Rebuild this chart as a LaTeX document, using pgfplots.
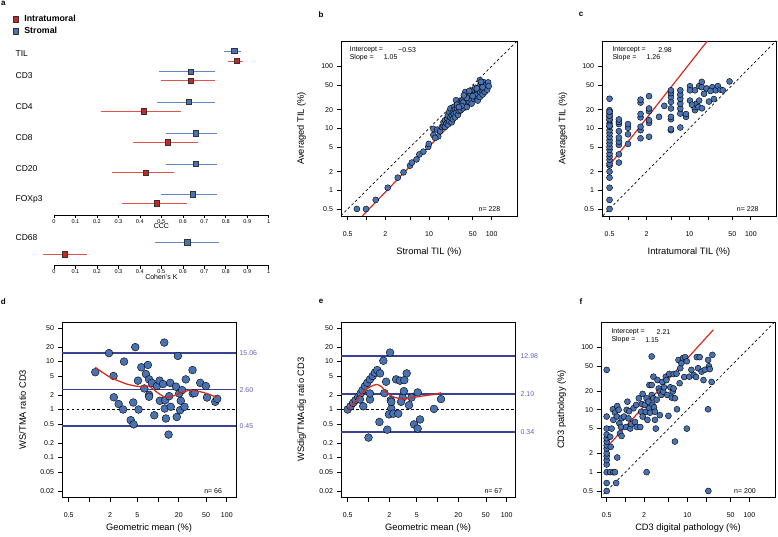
\documentclass[border=0pt]{standalone}
\usepackage{fontspec}
\setmainfont{Liberation Sans}
\usepackage{pgfplots}
\pgfplotsset{compat=1.18}
\newcommand\fs[1]{\fontsize{#1}{#1}\selectfont}
\definecolor{ptblue}{RGB}{72,114,178}
\definecolor{ciblue}{RGB}{96,136,196}
\definecolor{ptred}{RGB}{200,38,38}
\definecolor{cired}{RGB}{222,84,72}
\definecolor{fitred}{RGB}{214,44,32}
\definecolor{lineblue}{RGB}{58,66,150}
\definecolor{lblblue}{RGB}{98,98,180}
\tikzset{rowlbl/.style={anchor=west, font=\fs{8.5}}}
\pgfplotsset{
 myR/.style={scale only axis, xminorticks=false, yminorticks=false,
   tick align=outside, major tick length=4.5pt, xtick pos=bottom, ytick pos=left,
   axis line style={line width=0.8pt}, tick style={black,line width=0.7pt},
   tick label style={font=\fs{7}}, xticklabel style={yshift=-8pt}, label style={font=\fs{9.3}},
   clip mode=individual, clip marker paths=true, height=175pt},
 mytop/.style={xlabel style={at={(axis description cs:0.5,-0.204)},anchor=center},
   ylabel style={at={(axis description cs:-0.225,0.5)},anchor=center}},
 mybot/.style={xlabel style={at={(axis description cs:0.5,-0.179)},anchor=center},
   ylabel style={at={(axis description cs:-0.226,0.5)},anchor=center}},
 mytt/.style={xtick={0.5,1,2,5,10,20,50,100}, xticklabels={0.5,,2,,10,,50,100},
   ytick={0.5,1,2,5,10,20,50,100}, yticklabels={0.5,1,2,5,10,20,50,100}},
 mybt/.style={xtick={0.5,1,2,5,10,20,50,100}, xticklabels={0.5,,2,5,,20,50,100},
   ytick={0.02,0.05,0.1,0.2,0.5,1,2,5,10,20,50}, yticklabels={0.02,0.05,0.1,0.2,0.5,1,2,5,10,20,50}},
 mysc/.style={only marks, mark=*, mark size=3pt, mark options={fill=ptblue, draw=black, line width=0.4pt}},
 myscb/.style={only marks, mark=*, mark size=3.9pt, mark options={fill=ptblue, draw=black, line width=0.4pt}},
 fa/.style={scale only axis, width=214.7pt, xmin=0, xmax=1, axis x line*=bottom, axis y line=none, clip=false,
   xtick={0,0.1,0.2,0.3,0.4,0.5,0.6,0.7,0.8,0.9,1}, xticklabels={0,0.1,0.2,0.3,0.4,0.5,0.6,0.7,0.8,0.9,1},
   tick align=outside, major tick length=3pt, tick style={black,line width=0.6pt},
   axis line style={line width=0.7pt,black}, xticklabel style={font=\fs{5.6}, inner sep=1pt}},
 cib/.style={ciblue, line width=0.9pt, forget plot},
 cir/.style={cired, line width=0.9pt, forget plot},
 sqb/.style={only marks, mark=square*, mark size=2.7pt, mark options={fill=ptblue, draw=black!80, line width=0.5pt}},
 sqr/.style={only marks, mark=square*, mark size=2.7pt, mark options={fill=ptred, draw=black!80, line width=0.5pt}},
}
\begin{document}
\begin{tikzpicture}
\path[use as bounding box] (0,0) rectangle (778pt,536pt);
% panel letters
\node[anchor=north west, font=\fs{8}\bfseries, inner sep=0pt] at (1pt,535pt) {a};
\node[font=\fs{8}\bfseries] at (321pt,521.7pt) {b};
\node[font=\fs{8}\bfseries] at (581pt,521.7pt) {c};
\node[font=\fs{8}\bfseries] at (3.3pt,234.3pt) {d};
\node[font=\fs{8}\bfseries] at (321pt,234.3pt) {e};
\node[font=\fs{8}\bfseries] at (581pt,234.3pt) {f};

% ---------- panel a, CCC part ----------
\begin{axis}[fa, at={(54pt,321pt)}, height=175pt, ymin=-215, ymax=-40,
  legend style={at={(-0.192,1.154)}, anchor=north west, draw=none, fill=none,
    font=\fs{8.8}\bfseries, inner sep=0pt, row sep=0pt, cells={anchor=west},
    /tikz/every odd column/.append style={column sep=4pt}}]
\addplot[cib] coordinates {(0.79,-51) (0.87,-51)};
\addplot[cir] coordinates {(0.81,-61) (0.88,-61)};
\addplot[cib] coordinates {(0.488,-71.7) (0.752,-71.7)};
\addplot[cir] coordinates {(0.498,-80.7) (0.752,-80.7)};
\addplot[cib] coordinates {(0.478,-102) (0.752,-102)};
\addplot[cir] coordinates {(0.217,-111.3) (0.59,-111.3)};
\addplot[cib] coordinates {(0.52,-133.3) (0.761,-133.3)};
\addplot[cir] coordinates {(0.37,-142.3) (0.671,-142.3)};
\addplot[cib] coordinates {(0.52,-164) (0.761,-164)};
\addplot[cir] coordinates {(0.269,-172.7) (0.559,-172.7)};
\addplot[cib] coordinates {(0.498,-194.3) (0.761,-194.3)};
\addplot[cir] coordinates {(0.318,-203.3) (0.621,-203.3)};
\addplot[sqr] coordinates {(0.85,-61) (0.638,-80.7) (0.419,-111.3) (0.53,-142.3) (0.427,-172.7) (0.478,-203.3)};
\addlegendentry{Intratumoral}
\addplot[sqb] coordinates {(0.84,-51) (0.638,-71.7) (0.629,-102) (0.661,-133.3) (0.661,-164) (0.646,-194.3)};
\addlegendentry{Stromal}
\node[rowlbl] at (axis cs:-0.195,-53.3) {TIL};
\node[rowlbl] at (axis cs:-0.195,-76) {CD3};
\node[rowlbl] at (axis cs:-0.195,-106.7) {CD4};
\node[rowlbl] at (axis cs:-0.195,-137.3) {CD8};
\node[rowlbl] at (axis cs:-0.195,-168.3) {CD20};
\node[rowlbl] at (axis cs:-0.195,-199.3) {FOXp3};
\node[font=\fs{7}] at (axis cs:0.5,-226.3) {CCC};
\end{axis}

% ---------- panel a, kappa part ----------
\begin{axis}[fa, at={(54pt,270.3pt)}, height=40.7pt, ymin=-265.7, ymax=-225]
\addplot[cib] coordinates {(0.47,-242.3) (0.77,-242.3)};
\addplot[cir] coordinates {(-0.05,-254.3) (0.152,-254.3)};
\addplot[sqb] coordinates {(0.621,-242.3)};
\addplot[sqr] coordinates {(0.051,-254.3)};
\node[rowlbl] at (axis cs:-0.195,-237.7) {CD68};
\node[font=\fs{7}] at (axis cs:0.5,-276.7) {Cohen's K};
\end{axis}

% ---------- panel b ----------
\begin{axis}[myR, mytop, mytt, xmode=log, ymode=log, at={(341pt,320pt)}, width=176pt,
  xmin=0.39, xmax=255, ymin=0.385, ymax=256,
  xlabel={Stromal TIL (\%)}, ylabel={Averaged TIL (\%)}]
\addplot[black, line width=0.7pt, dash pattern=on 2.5pt off 2.5pt] coordinates {(0.3,0.3) (300,300)};
\addplot[fitred, line width=1.2pt] coordinates {(0.857,0.385) (90,51)};
\addplot[mysc] coordinates {
(0.70,0.5)(0.98,0.5)(1.4,0.70)(2.18,1.1)(3.15,1.6)(3.9,1.95)(4.96,2.5)(5.3,2.8)(6.3,3.15)(7,3.8)
(8.1,4.2)(9.7,5)(9.9,5.6)(11.7,7.8)(11.7,9.8)(13.5,9.5)(14,7.4)(12.5,7)(15,9)(16,10.5)
(17,11)(17,12.5)(18,13.5)(18,10.5)(19,12)(19.5,14.5)(20,11.5)(20,16)(21,13)(21,18.4)
(22,15)(22,20.9)(23,16.3)(23,12.5)(24,14)(24,18)(25,22.2)(25,17)(26,15)(26,20)
(27,28.4)(27,18)(28,21)(29,16.5)(30,25)(30,19)(31,22)(32,19.6)(33,26)(34,28.4)
(35,21)(36,30)(37,24)(38,38.6)(39,27)(40,22)(41,28.4)(42,33)(43.5,27)(45,30)
(47,40)(48,25)(50,41)(52,30)(54,35)(56,32)(58,36)(60,41)(60,28)(62,45)
(64,48)(65,60)(65,32)(66,38)(68,43)(70,52.6)(70,40)(72,35)(74,43)(75,48)
(76,55)(78,38.6)(80,45)(82,50)(85,42)(88,55)(90,48)(55,45)(45,36)(35,26)
(28,24)(33,23)(40,31)(50,33)(58,44)(68,56)(72,46)(44,40)(30,22)(36,34)};
\node[anchor=west, font=\fs{7}] at (rel axis cs:0.03,0.949) {Intercept =};
\node[anchor=west, font=\fs{7}] at (rel axis cs:0.03,0.907) {Slope =};
\node[anchor=west, font=\fs{7}] at (rel axis cs:0.305,0.949) {−0.53};
\node[anchor=west, font=\fs{7}] at (rel axis cs:0.223,0.907) {1.05};
\node[anchor=east, font=\fs{7}] at (rel axis cs:0.925,0.04) {n= 228};
\end{axis}

% ---------- panel c ----------
\begin{axis}[myR, mytop, mytt, xmode=log, ymode=log, at={(602pt,320pt)}, width=174pt,
  xmin=0.377, xmax=257, ymin=0.385, ymax=256,
  xlabel={Intratumoral TIL (\%)}, ylabel={Averaged TIL (\%)}]
\addplot[black, line width=0.7pt, dash pattern=on 2.5pt off 2.5pt] coordinates {(0.3,0.3) (300,300)};
\addplot[fitred, line width=1.2pt] coordinates {(0.525,2.7) (19.6,256)};
\addplot[mysc] coordinates {
(0.5,0.5)(0.5,0.7)(0.5,1.1)(0.5,1.6)(0.5,2)(0.5,2.5)(0.5,2.7)(0.5,3.1)(0.5,3.5)(0.5,3.9)
(0.5,4.5)(0.5,5)(0.5,5.7)(0.5,6.4)(0.5,7.3)(0.5,8.3)(0.5,9.3)(0.5,10.6)(0.5,12)(0.5,13.5)
(0.5,15.3)(0.5,17.3)(0.5,19.6)(0.5,30)(0.5,11)(0.5,14)(0.5,16)(0.5,18.5)
(0.71,2.8)(0.71,3.8)(0.71,5.4)(0.71,6.1)(0.71,7.1)(0.71,9)(0.71,11.7)(0.71,12.7)(0.71,13.9)
(1,5.6)(1,8)(1,10.2)(1,11.7)
(1.6,6.9)(1.6,9.3)(1.6,10.6)(1.6,15)(1.6,17)(1.6,26)(1.6,29)
(2.2,7.3)(2.2,12.2)(2.2,13.5)(2.2,18.9)(2.2,20.9)(2.2,33)
(3.2,15.3)(3.9,23)
(5,9.3)(5,9.7)(5,14)(5,15.3)(5,20.9)(5,26.7)(5,32)(5,37)(5,41)
(7.1,10.3)(7.1,17.3)(7.1,20.9)(7.1,25)(7.1,30)(7.1,35)(7.1,41)
(8.8,15.3)(8.8,17)(10.2,28)(10.2,47.7)(10.2,41)(12.3,19.6)(12.3,41)(12,22)(13,25)(14.4,28)
(14.4,48)(14,22)(15.9,56)(15.9,46)(17.3,36)(20.8,27)(23.6,46)(25,29.6)(26.7,41)(29,48)
(32,42)(35,41)(45,57)(16,21)(11,24)(19,44)(22,40)};
\node[anchor=west, font=\fs{7}] at (rel axis cs:0.04,0.949) {Intercept =};
\node[anchor=west, font=\fs{7}] at (rel axis cs:0.04,0.907) {Slope =};
\node[anchor=west, font=\fs{7}] at (rel axis cs:0.303,0.949) {2.98};
\node[anchor=west, font=\fs{7}] at (rel axis cs:0.236,0.907) {1.26};
\node[anchor=east, font=\fs{7}] at (rel axis cs:0.92,0.04) {n= 228};
\end{axis}

% ---------- panel d ----------
\begin{axis}[myR, mybot, mybt, xmode=log, ymode=log, at={(62pt,39pt)}, width=174pt,
  xmin=0.4, xmax=136, ymin=0.015, ymax=66.8,
  xlabel={Geometric mean (\%)}, ylabel={WS/TMA ratio CD3}]
\addplot[lineblue, line width=1.4pt] coordinates {(0.4,15.06) (136,15.06)};
\addplot[lineblue, line width=1.4pt] coordinates {(0.4,2.60) (136,2.60)};
\addplot[lineblue, line width=1.4pt] coordinates {(0.4,0.45) (136,0.45)};
\addplot[black, line width=0.7pt, dash pattern=on 2.5pt off 2.5pt] coordinates {(0.4,1) (136,1)};
\addplot[myscb] coordinates {
(1.22,6)(1.93,15)(2.25,5)(2.27,1.8)(2.67,1.3)(3.1,1)(3.2,10)(4.0,0.6)(4.35,1.4)(4.4,0.49)
(4.66,20)(5.1,4)(5.2,1)(5.7,7.6)(6.3,2.75)(6.65,5.5)(7.1,8.5)(7.4,4.25)(7.4,2.03)(7.4,1.85)
(8.1,3.6)(8.8,0.76)(9.6,3.08)(10.5,4)(10.6,1.52)(11.8,3.4)(12.3,24.9)(12.5,1.05)(12.7,1.57)(13,0.65)
(14.2,0.30)(14.5,1.9)(15,3.6)(15.3,1.14)(18.2,3)(18.7,0.70)(19.4,13.1)(20.3,2.16)(20.9,0.97)(21.4,1.52)
(22.4,2.54)(24.2,1.14)(25.3,4.25)(31.7,6.66)(32,2.16)(34,2.2)(41,3.6)(49.6,3.08)(51.5,1.78)(67.8,1.45)
(72.5,1.67)};
\addplot[fitred, line width=1.3pt, smooth] coordinates {
(1.22,7.6)(1.96,4.8)(3.5,3.4)(5.5,3.0)(7.3,3.08)(10.2,2.16)(13.3,1.78)(17.8,2.0)(23.4,2.34)(30.6,2.54)
(41.5,2.34)(54,2.1)(71.6,1.78)};
\node[anchor=west, text=lblblue, font=\fs{7}] at (axis cs:136,15.06) {15.06};
\node[anchor=west, text=lblblue, font=\fs{7}] at (axis cs:136,2.60) {2.60};
\node[anchor=west, text=lblblue, font=\fs{7}] at (axis cs:136,0.45) {0.45};
\node[anchor=east, font=\fs{7}] at (rel axis cs:0.94,0.036) {n= 66};
\end{axis}

% ---------- panel e ----------
\begin{axis}[myR, mybot, mybt, xmode=log, ymode=log, at={(341pt,39pt)}, width=174pt,
  xmin=0.4, xmax=132, ymin=0.015, ymax=66.8,
  xlabel={Geometric mean (\%)}, ylabel={WSdig/TMAdig ratio CD3}]
\addplot[lineblue, line width=1.4pt] coordinates {(0.4,12.98) (132,12.98)};
\addplot[lineblue, line width=1.4pt] coordinates {(0.4,2.10) (132,2.10)};
\addplot[lineblue, line width=1.4pt] coordinates {(0.4,0.34) (132,0.34)};
\addplot[black, line width=0.7pt, dash pattern=on 2.5pt off 2.5pt] coordinates {(0.4,1) (132,1)};
\addplot[myscb] coordinates {
(0.5,1)(0.55,1.17)(0.60,1.38)(0.65,1.57)(0.71,1.84)(0.77,2.16)(0.82,2.54)(0.89,3.08)(0.96,3.6)(1.05,4.25)
(1.15,5)(1.24,5.86)(1.34,6.66)(1.47,5.67)(0.84,1.17)(0.75,1.62)(1.05,1.62)(1.05,2.16)(1.0,0.26)(1.44,0.55)
(1.64,10.4)(1.8,3.8)(1.7,2.2)(1.87,0.38)(2.05,15.4)(2.1,1.57)(2.14,1.05)(2.14,1.45)(1.98,0.79)(2.29,0.82)
(2.51,4.25)(2.86,4.0)(2.7,0.82)(3.12,1.78)(3.3,4.1)(3.57,5.67)(3.25,2.42)(2.96,1.45)(3.86,1.23)(4.2,1.78)
(4.56,0.49)(5.15,2.27)(5.15,0.4)(5.57,0.62)(6.6,68)(8.87,1.03)(11.2,1.65)};
\addplot[fitred, line width=1.3pt, smooth] coordinates {
(0.5,1)(0.68,1.57)(0.89,2.54)(1.18,3.2)(1.32,3.33)(1.55,2.98)(1.83,2.23)(2.29,1.84)(3.2,1.65)(4.47,1.78)
(6.2,1.93)(8.7,2.06)(11.2,2.23)};
\node[anchor=west, text=lblblue, font=\fs{7}, xshift=2pt] at (axis cs:132,12.98) {12.98};
\node[anchor=west, text=lblblue, font=\fs{7}, xshift=2pt] at (axis cs:132,2.10) {2.10};
\node[anchor=west, text=lblblue, font=\fs{7}, xshift=2pt] at (axis cs:132,0.34) {0.34};
\node[anchor=east, font=\fs{7}] at (rel axis cs:0.947,0.036) {n= 67};
\end{axis}

% ---------- panel f ----------
\begin{axis}[myR, mybot, mytt, xmode=log, ymode=log, at={(601pt,39pt)}, width=174pt,
  xmin=0.405, xmax=259, ymin=0.40, ymax=256,
  xlabel={CD3 digital pathology (\%)}, ylabel={CD3 pathology (\%)}]
\addplot[black, line width=0.7pt, dash pattern=on 2.5pt off 2.5pt] coordinates {(0.3,0.3) (300,300)};
\addplot[fitred, line width=1.2pt] coordinates {(0.51,2.55) (26.3,193)};
\addplot[mysc] coordinates {
(0.5,0.5)(0.5,0.67)(0.5,1)(0.5,1.33)(0.5,1.56)(0.5,1.8)(0.5,2)(0.5,2.4)(0.5,2.7)(0.5,3.1)
(0.5,3.5)(0.5,4)(0.5,5)(0.5,7.8)(0.5,43.7)
(0.57,1)(0.64,1)(0.68,1)(0.74,1.72)(0.71,0.67)(0.58,2.55)(0.57,3.7)(0.6,5)(0.64,6.9)(0.63,10.2)
(0.68,9)(0.73,7.8)(0.74,11.5)(0.78,10)(0.8,6.1)(0.82,4.2)(0.85,5.3)(0.87,7.3)(0.87,3.8)(0.95,7.8)
(1.03,5.3)(1.12,7.3)(1.2,5)(1.08,13.5)(1.25,5.9)(1.35,10.6)(1.43,6.4)(1.5,12)(1.53,5.3)(1.65,15.3)
(1.74,5.3)(1.8,9.3)(1.84,12.4)(1.9,7.8)(1.9,18)(2.06,12)(2.14,9.3)(2.2,15.3)(2.27,6.9)(2.35,13.5)
(2.44,10.6)(2.5,9)(2.44,25)(2.66,25)(2.66,17.3)(2.75,12)(2.83,15.3)(2.9,11)(3.0,9.3)(2.66,71.7)
(2.2,1)(2.83,34)(3,6.9)(3.2,14.5)(3.3,30)(3.45,22)(3.6,19.6)(3.8,17.3)(3.6,8.2)(3.95,28)
(4.08,19.6)(4.2,23)(4.5,34)(4.6,30)(4.75,17.3)(4.95,8)(5.1,37.6)(5.3,23)(5.6,15.7)(5.8,19.6)
(6.0,37.6)(6.0,22)(6.3,15.3)(6.3,3.1)(6.7,38)(7.2,63)(7.5,26.7)(7.7,46.5)(8.0,56)(8.5,67.6)
(8.9,33.6)(9.2,70)(9.8,60)(9.8,5)(6.8,10.2)(10.8,34)(11.6,43.7)(12.7,36)(13.8,33.6)(14.2,70)
(14.9,46.5)(15.8,70)(17,41)(18.2,30)(19.2,44)(21.6,63)(22.3,50)(23,45)(21.6,10.2)(24.6,28)
(25.3,76)(21.8,0.5)(3.1,5)(1.05,10)(1.15,9.5)};
\node[anchor=west, font=\fs{7}] at (rel axis cs:0.04,0.945) {Intercept =};
\node[anchor=west, font=\fs{7}] at (rel axis cs:0.04,0.897) {Slope =};
\node[anchor=west, font=\fs{7}] at (rel axis cs:0.30,0.945) {2.21};
\node[anchor=west, font=\fs{7}] at (rel axis cs:0.234,0.897) {1.15};
\node[anchor=east, font=\fs{7}] at (rel axis cs:0.91,0.036) {n= 200};
\end{axis}
\end{tikzpicture}
\end{document}
